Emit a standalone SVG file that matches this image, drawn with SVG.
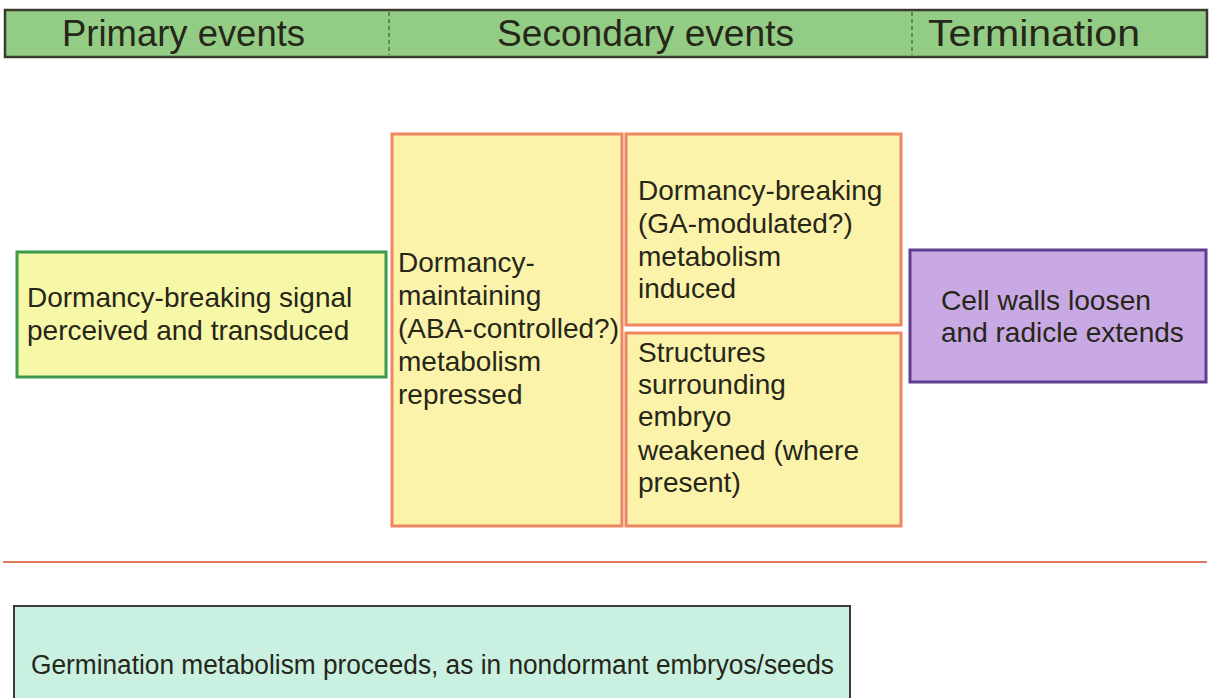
<svg xmlns="http://www.w3.org/2000/svg" width="1210" height="698" viewBox="0 0 1210 698">
<style>
text{font-family:"Liberation Sans",Arial,sans-serif;fill:#262619}
.h{font-size:36px}
.t{font-size:28px}
.org{fill:#fbf3aa;stroke:#ef8660;stroke-width:3}
</style>
<rect width="1210" height="698" fill="#ffffff"/>
<g id="header">
<rect x="5" y="10" width="1202" height="47" fill="#93cc84" stroke="#3b3a2c" stroke-width="2.5"/>
<line x1="389" y1="12" x2="389" y2="55" stroke="#5e8a55" stroke-width="2" stroke-dasharray="4,3"/>
<line x1="912" y1="12" x2="912" y2="55" stroke="#5e8a55" stroke-width="2" stroke-dasharray="4,3"/>
<text class="h" x="62" y="46" textLength="243" lengthAdjust="spacingAndGlyphs">Primary events</text>
<text class="h" x="497" y="46" textLength="297" lengthAdjust="spacingAndGlyphs">Secondary events</text>
<text class="h" x="928" y="46" textLength="212" lengthAdjust="spacingAndGlyphs">Termination</text>
</g>
<g id="signal">
<rect x="17" y="252" width="369" height="125" fill="#f7f7a8" stroke="#3c9a4c" stroke-width="3"/>
<text class="t" x="27" y="307">Dormancy-breaking signal</text>
<text class="t" x="27" y="340">perceived and transduced</text>
</g>
<g id="maintaining">
<rect x="392" y="134" width="230" height="392" class="org"/>
<text class="t" x="398" y="272">Dormancy-</text>
<text class="t" x="398" y="305">maintaining</text>
<text class="t" x="398" y="338">(ABA-controlled?)</text>
<text class="t" x="398" y="371">metabolism</text>
<text class="t" x="398" y="404">repressed</text>
</g>
<g id="breaking">
<rect x="626" y="134" width="275" height="191" class="org"/>
<text class="t" x="638" y="200">Dormancy-breaking</text>
<text class="t" x="638" y="233">(GA-modulated?)</text>
<text class="t" x="638" y="266">metabolism</text>
<text class="t" x="638" y="298">induced</text>
</g>
<g id="structures">
<rect x="626" y="333" width="275" height="193" class="org"/>
<text class="t" x="638" y="362">Structures</text>
<text class="t" x="638" y="394">surrounding</text>
<text class="t" x="638" y="426">embryo</text>
<text class="t" x="638" y="460">weakened (where</text>
<text class="t" x="638" y="492">present)</text>
</g>
<g id="termination">
<rect x="910" y="250" width="296" height="132" fill="#c8a9e4" stroke="#5e3f8f" stroke-width="3"/>
<text class="t" x="941" y="310" textLength="210" lengthAdjust="spacingAndGlyphs">Cell walls loosen</text>
<text class="t" x="941" y="342">and radicle extends</text>
</g>
<g id="connectors">
<line x1="3" y1="562" x2="1207" y2="562" stroke="#e07a5c" stroke-width="2"/>
</g>
<g id="germination">
<rect x="14" y="606" width="836" height="100" fill="#c9f0e0" stroke="#3a3a36" stroke-width="2"/>
<text class="t" x="31" y="674" style="font-size:27px" textLength="803" lengthAdjust="spacingAndGlyphs">Germination metabolism proceeds, as in nondormant embryos/seeds</text>
</g>
</svg>
